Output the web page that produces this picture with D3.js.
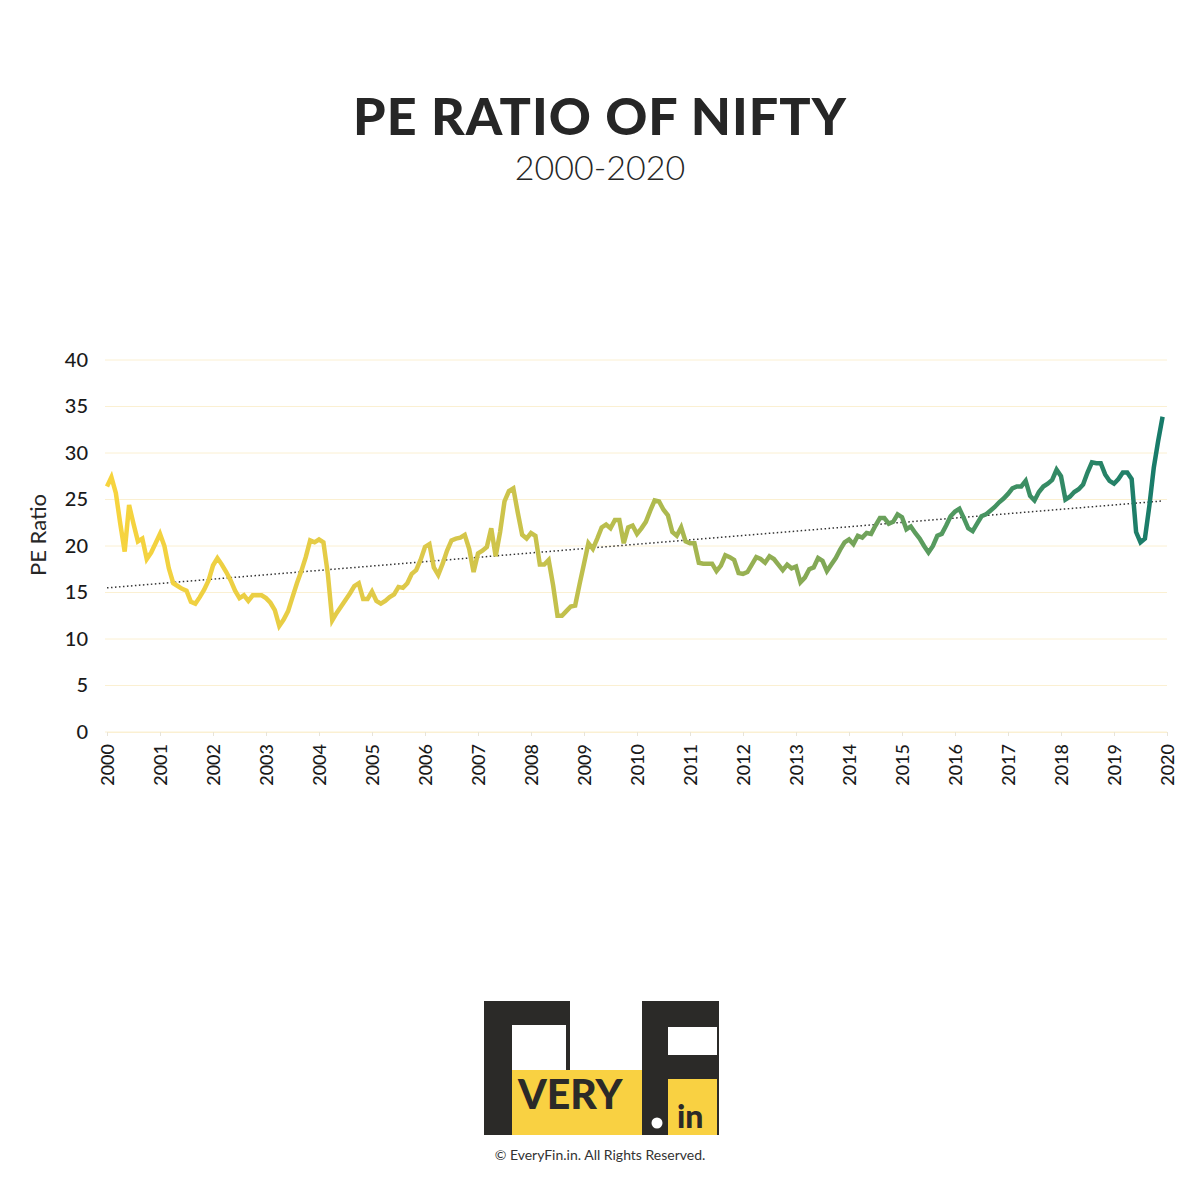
<!DOCTYPE html>
<html>
<head>
<meta charset="utf-8">
<script src="https://cdn.jsdelivr.net/npm/d3@7"></script>
<style>
  body { margin: 0; background: #fff; }
  svg { display: block; }
</style>
</head>
<body>
<svg id="chart"></svg>
<script>
// monthly PE ratio, one row per year (Jan..Dec)
const years = d3.range(2000, 2020);
const yearTicks = d3.range(2000, 2021);
const pe2000 = [26.4, 27.4, 25.7, 22.4, 19.4, 24.4, 22.4, 20.5, 20.8, 18.6, 19.3, 20.3];
const pe2001 = [21.3, 20.0, 17.6, 16.0, 15.7, 15.4, 15.2, 14.0, 13.8, 14.5, 15.3, 16.3];
const pe2002 = [17.9, 18.7, 18.0, 17.2, 16.3, 15.2, 14.4, 14.7, 14.1, 14.7, 14.7, 14.7];
const pe2003 = [14.4, 13.9, 13.1, 11.4, 12.1, 13.0, 14.5, 16.0, 17.3, 18.8, 20.6, 20.4];
const pe2004 = [20.7, 20.4, 17.0, 12.0, 12.8, 13.5, 14.2, 14.9, 15.7, 16.0, 14.3, 14.3];
const pe2005 = [15.1, 14.1, 13.8, 14.1, 14.5, 14.8, 15.6, 15.5, 16.0, 17.0, 17.4, 18.5];
const pe2006 = [19.9, 20.2, 17.7, 16.9, 18.1, 19.5, 20.6, 20.8, 20.9, 21.2, 19.7, 17.2];
const pe2007 = [19.2, 19.5, 19.9, 21.9, 18.9, 21.5, 24.8, 25.9, 26.2, 23.6, 21.2, 20.8];
const pe2008 = [21.4, 21.1, 18.0, 18.0, 18.5, 15.8, 12.5, 12.5, 13.0, 13.5, 13.6, 15.9];
const pe2009 = [18.1, 20.3, 19.7, 20.8, 22.0, 22.3, 21.9, 22.8, 22.8, 20.3, 22.0, 22.2];
const pe2010 = [21.3, 21.9, 22.6, 23.8, 24.9, 24.8, 23.9, 23.3, 21.5, 21.1, 22.0, 20.5];
const pe2011 = [20.3, 20.3, 18.2, 18.1, 18.1, 18.1, 17.3, 17.9, 19.0, 18.8, 18.5, 17.1];
const pe2012 = [17.0, 17.2, 18.0, 18.8, 18.6, 18.2, 18.9, 18.6, 18.0, 17.4, 18.0, 17.6];
const pe2013 = [17.8, 16.1, 16.6, 17.5, 17.7, 18.7, 18.4, 17.3, 18.0, 18.7, 19.6, 20.4];
const pe2014 = [20.7, 20.2, 21.1, 20.9, 21.4, 21.3, 22.2, 23.0, 23.0, 22.4, 22.6, 23.4];
const pe2015 = [23.1, 21.8, 22.1, 21.4, 20.8, 20.0, 19.3, 20.0, 21.1, 21.3, 22.2, 23.2];
const pe2016 = [23.7, 24.0, 23.0, 21.9, 21.6, 22.4, 23.2, 23.4, 23.8, 24.2, 24.7, 25.1];
const pe2017 = [25.6, 26.2, 26.4, 26.4, 27.0, 25.4, 24.9, 25.8, 26.4, 26.7, 27.1, 28.2];
const pe2018 = [27.5, 25.0, 25.3, 25.8, 26.1, 26.6, 27.9, 29.0, 28.9, 28.9, 27.7, 27.0];
const pe2019 = [26.7, 27.2, 27.9, 27.9, 27.2, 21.5, 20.4, 20.8, 24.3, 28.4, 31.3, 33.9];
const yTicks = [0, 5, 10, 15, 20, 25, 30, 35, 40];

const peByYear = [pe2000, pe2001, pe2002, pe2003, pe2004, pe2005, pe2006, pe2007, pe2008, pe2009,
  pe2010, pe2011, pe2012, pe2013, pe2014, pe2015, pe2016, pe2017, pe2018, pe2019];
const data = [];
peByYear.forEach((arr, yi) => arr.forEach((v, m) => data.push({ t: years[yi] + m / 12, v: v })));

const W = 1200, H = 1200;
const svg = d3.select('#chart').attr('width', W).attr('height', H);
const font = 'Lato, "Open Sans", sans-serif';

const x = d3.scaleLinear().domain([2000, 2020]).range([107, 1167]);
const y = d3.scaleLinear().domain([0, 40]).range([732, 360]);

// title
svg.append('text').attr('x', 600).attr('y', 135).attr('text-anchor', 'middle')
  .style('font-family', font).style('font-weight', 900).style('font-size', '52px')
  .style('letter-spacing', '1px').attr('fill', '#262626').text('PE RATIO OF NIFTY');
svg.append('text').attr('x', 600).attr('y', 180).attr('text-anchor', 'middle')
  .style('font-family', font).style('font-weight', 300).style('font-size', '34px')
  .attr('fill', '#262626').text('2000-2020');

// grid
svg.append('g').selectAll('line').data(yTicks).join('line')
  .attr('x1', 105).attr('x2', 1167)
  .attr('y1', d => y(d)).attr('y2', d => y(d))
  .attr('stroke', '#fbf0d2').attr('stroke-width', 1);

// y axis
const yAxis = svg.append('g').attr('transform', 'translate(88,0)')
  .call(d3.axisLeft(y).tickValues(yTicks).tickSize(0).tickPadding(0));
yAxis.select('.domain').remove();
yAxis.selectAll('text').style('font-family', font).style('font-size', '20px')
  .style('font-weight', 500).attr('fill', '#1a1a1a');

svg.append('text').attr('transform', 'translate(46,535) rotate(-90)')
  .attr('text-anchor', 'middle').style('font-family', font).style('font-size', '22px')
  .attr('fill', '#262626').text('PE Ratio');

// x axis
const xAxis = svg.append('g').attr('transform', 'translate(0,732)')
  .call(d3.axisBottom(x).tickValues(yearTicks).tickFormat(d3.format('d')).tickSize(4).tickPadding(10));
xAxis.select('.domain').attr('stroke', '#fbf0d2');
xAxis.selectAll('line').attr('stroke', '#e8e4d8');
xAxis.selectAll('text')
  .attr('transform', 'rotate(-90)').attr('text-anchor', 'end')
  .attr('x', -12).attr('y', 0).attr('dy', '0.35em')
  .style('font-family', font).style('font-size', '18px').style('font-weight', 500)
  .attr('fill', '#1a1a1a');

// gradient for line
const grad = svg.append('defs').append('linearGradient').attr('id', 'lineGrad')
  .attr('gradientUnits', 'userSpaceOnUse')
  .attr('x1', x(2000)).attr('x2', x(2020)).attr('y1', 0).attr('y2', 0);
[[0, '#f7d43e'], [0.3, '#dcc84a'], [0.5, '#b4bc4e'], [0.65, '#8aab55'], [0.8, '#4f9860'], [1, '#167a6a']]
  .forEach(s => grad.append('stop').attr('offset', s[0]).attr('stop-color', s[1]));

// trend line (least squares)
const mx = d3.mean(data, d => d.t), my = d3.mean(data, d => d.v);
const slope = d3.sum(data, d => (d.t - mx) * (d.v - my)) / d3.sum(data, d => (d.t - mx) ** 2);
const fit = t => my + slope * (t - mx);
const t0 = data[0].t, t1 = data[data.length - 1].t;
svg.append('line')
  .attr('x1', x(t0)).attr('y1', y(fit(t0))).attr('x2', x(t1)).attr('y2', y(fit(t1)))
  .attr('stroke', '#333').attr('stroke-width', 1.5).attr('stroke-dasharray', '1.5,2.5');

const line = d3.line().x(d => x(d.t)).y(d => y(d.v));
svg.append('path').datum(data).attr('d', line)
  .attr('fill', 'none').attr('stroke', 'url(#lineGrad)')
  .attr('stroke-width', 4.5).attr('stroke-linejoin', 'miter');

// logo
const dark = '#2b2a28', yel = '#f9d142';
const logo = svg.append('g');
logo.append('rect').attr('x', 484).attr('y', 1001).attr('width', 86).attr('height', 134).attr('fill', dark);
logo.append('rect').attr('x', 512).attr('y', 1025).attr('width', 54).attr('height', 45).attr('fill', '#fff');
logo.append('rect').attr('x', 512).attr('y', 1070).attr('width', 130).attr('height', 65).attr('fill', yel);
logo.append('rect').attr('x', 642).attr('y', 1001).attr('width', 77).attr('height', 134).attr('fill', dark);
logo.append('rect').attr('x', 668).attr('y', 1027).attr('width', 49).attr('height', 28).attr('fill', '#fff');
logo.append('rect').attr('x', 668).attr('y', 1079).attr('width', 49).attr('height', 56).attr('fill', yel);
logo.append('circle').attr('cx', 657).attr('cy', 1123).attr('r', 5.5).attr('fill', '#fff');
logo.append('text').attr('x', 518).attr('y', 1109).style('font-family', font)
  .style('font-weight', 900).style('font-size', '41px').attr('fill', dark).text('VERY');
logo.append('text').attr('x', 677).attr('y', 1128).style('font-family', font)
  .style('font-weight', 900).style('font-size', '32px').attr('fill', dark).text('in');

svg.append('text').attr('x', 600).attr('y', 1160).attr('text-anchor', 'middle')
  .style('font-family', font).style('font-size', '14px').attr('fill', '#333')
  .text('© EveryFin.in. All Rights Reserved.');
</script>
</body>
</html>
